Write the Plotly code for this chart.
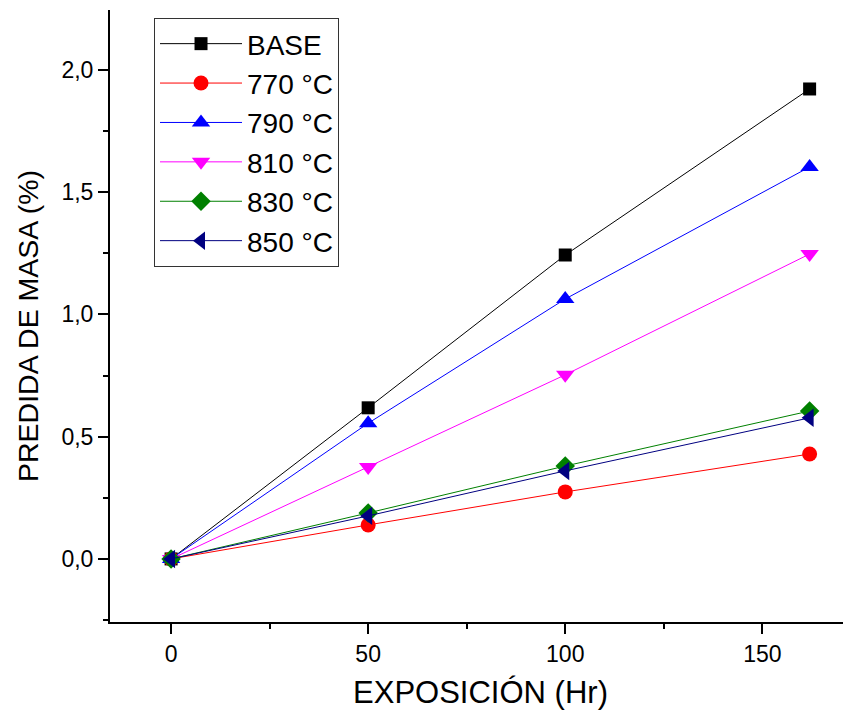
import plotly.graph_objects as go

hours = [0, 50, 100, 162]
series_names = ["BASE", "770 °C", "790 °C", "810 °C", "830 °C", "850 °C"]
base = [0.0, 0.618, 1.243, 1.922]
t770 = [0.0, 0.139, 0.274, 0.429]
t790 = [0.0, 0.555, 1.063, 1.603]
t810 = [0.0, 0.376, 0.753, 1.247]
t830 = [0.0, 0.188, 0.380, 0.605]
t850 = [0.0, 0.176, 0.360, 0.577]
x_ticks = [0, 50, 100, 150]
y_ticks = [0.0, 0.5, 1.0, 1.5, 2.0]
x_title = "EXPOSICIÓN (Hr)"
y_title = "PREDIDA DE MASA (%)"

values = [base, t770, t790, t810, t830, t850]
colors = ["#000000", "#ff0000", "#0000ff", "#ff00ff", "#008000", "#000080"]
symbols = ["square", "circle", "triangle-up", "triangle-down", "diamond", "triangle-left"]
sizes = [13, 15, 16, 16, 15, 16]

fig = go.Figure()
for name, vals, c, s, sz in zip(series_names, values, colors, symbols, sizes):
    fig.add_trace(go.Scatter(
        x=hours, y=vals, name=name, mode="lines+markers",
        line=dict(color=c, width=1),
        marker=dict(color=c, symbol=s, size=sz, line=dict(width=0)),
    ))

font = "Liberation Sans, Arial, sans-serif"
fig.update_layout(
    width=843, height=707,
    margin=dict(l=102, r=0, t=2, b=93, autoexpand=False),
    paper_bgcolor="white", plot_bgcolor="white",
    separators=",.",
    font=dict(family=font, color="black"),
    showlegend=True,
    legend=dict(
        x=0.0594, y=0.987, xanchor="left", yanchor="top",
        bordercolor="#333333", borderwidth=1, bgcolor="white",
        font=dict(size=28, family=font, color="black"),
        itemwidth=82, tracegroupgap=0,
    ),
    xaxis=dict(
        range=[-15.5, 172.5], tickvals=x_ticks, showgrid=False, zeroline=False,
        showline=True, linecolor="black", linewidth=2,
        ticks="outside", ticklen=10, tickwidth=2, tickcolor="black",
        minor=dict(dtick=25, tick0=0, ticks="outside", ticklen=5, tickwidth=2, tickcolor="black"),
        tickfont=dict(size=23, family=font, color="black"),
        title=dict(text=x_title, font=dict(size=31, family=font, color="black"), standoff=16),
        automargin=False,
    ),
    yaxis=dict(
        range=[-0.258, 2.245], tickvals=y_ticks, tickformat=".1f", showgrid=False, zeroline=False,
        showline=True, linecolor="black", linewidth=2,
        ticks="outside", ticklen=10, tickwidth=2, tickcolor="black",
        minor=dict(dtick=0.25, tick0=0, ticks="outside", ticklen=5, tickwidth=2, tickcolor="black"),
        tickfont=dict(size=23, family=font, color="black"),
        automargin=False,
    ),
    annotations=[dict(
        text=y_title, xref="paper", yref="paper", x=0, y=0.4837,
        xanchor="center", yanchor="middle", xshift=-82, textangle=-90,
        showarrow=False, font=dict(size=28.5, family=font, color="black"),
    )],
)

fig.write_html("out.html")
